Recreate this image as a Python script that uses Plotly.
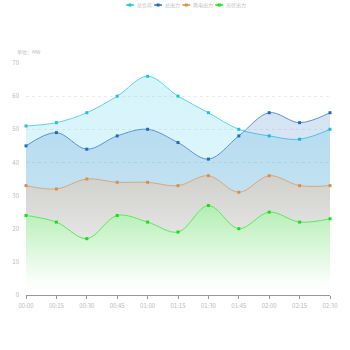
import plotly.graph_objects as go

times = ["00:00", "00:15", "00:30", "00:45", "01:00", "01:15",
         "01:30", "01:45", "02:00", "02:15", "02:30"]

names = ["总负荷", "总出力", "风电出力", "光伏出力"]
load_total = [51, 52, 55, 60, 66, 60, 55, 50, 48, 47, 50]
output_total = [45, 49, 44, 48, 50, 46, 41, 48, 55, 52, 55]
wind = [33, 32, 35, 34, 34, 33, 36, 31, 36, 33, 33]
solar = [24, 22, 17, 24, 22, 19, 27, 20, 25, 22, 23]

y_ticks = [0, 10, 20, 30, 40, 50, 60, 70]

series = [
    (names[0], load_total, "#5fd2ea", "#22bfe3",
     [[0, "rgba(46,199,230,0.12)"], [1, "rgba(46,199,230,0.20)"]]),
    (names[1], output_total, "#5a95d2", "#1a6cc4",
     [[0, "rgba(30,110,190,0.10)"], [1, "rgba(30,110,190,0.19)"]]),
    (names[2], wind, "#d9a878", "#e08e45",
     [[0, "rgb(248,248,248)"], [1, "rgb(208,208,205)"]]),
    (names[3], solar, "#5ee85e", "#18e018",
     [[0, "rgb(255,255,255)"], [0.15, "rgb(250,254,250)"], [1, "rgb(178,238,178)"]]),
]

# plot area in pixels (used to lay out the compact legend row)
W, H = 350, 350
ML, MR, MT, MB = 22, 15, 63, 55
PW, PH = W - ML - MR, H - MT - MB


def px_x(px):
    return (px - ML) / PW


def px_y(py):
    return (H - MB - py) / PH


fig = go.Figure()
for name, vals, line_c, mark_c, grad in series:
    fig.add_trace(go.Scatter(
        x=list(range(len(times))), y=vals, name=name,
        mode="lines+markers",
        line=dict(color=line_c, width=1, shape="spline", smoothing=1),
        marker=dict(color=mark_c, size=3, symbol="square"),
        fill="tozeroy",
        fillgradient=dict(type="vertical", colorscale=grad,
                          start=0, stop=max(vals)),
        cliponaxis=False, showlegend=False,
    ))

# compact legend row at the top: short line + marker + label per series
shapes = []
annotations = []
cursor = 125
legend_y = 5
for name, vals, line_c, mark_c, grad in series:
    shapes.append(dict(type="line", xref="paper", yref="paper",
                       x0=px_x(cursor), x1=px_x(cursor + 8),
                       y0=px_y(legend_y), y1=px_y(legend_y),
                       line=dict(color=mark_c, width=1.5)))
    shapes.append(dict(type="rect", xref="paper", yref="paper",
                       x0=px_x(cursor + 2.5), x1=px_x(cursor + 5.5),
                       y0=px_y(legend_y + 1.5), y1=px_y(legend_y - 1.5),
                       fillcolor=mark_c, line=dict(width=0)))
    annotations.append(dict(text=name, xref="paper", yref="paper",
                            x=px_x(cursor + 9), y=px_y(legend_y),
                            xanchor="left", yanchor="middle", showarrow=False,
                            font=dict(size=5, color="#c0c0c0")))
    cursor += 9 + 5 * len(name) + 5

annotations.append(dict(text="单位：MW", xref="paper", yref="paper",
                        x=px_x(11), y=px_y(52), xanchor="left", yanchor="middle",
                        showarrow=False, font=dict(size=5, color="#bbbbbb")))

fig.update_layout(
    width=W, height=H,
    margin=dict(l=ML, r=MR, t=MT, b=MB),
    paper_bgcolor="white", plot_bgcolor="white",
    font=dict(family="Noto Sans CJK SC, Noto Sans, sans-serif", size=6, color="#bbbbbb"),
    showlegend=False,
    xaxis=dict(
        tickmode="array", tickvals=list(range(len(times))), ticktext=times,
        range=[0, len(times) - 1], showgrid=False, zeroline=False,
        showline=True, linecolor="#999999", linewidth=1,
        ticks="outside", ticklen=3, tickcolor="#999999",
        tickfont=dict(size=6, color="#bbbbbb"), ticklabelstandoff=2,
    ),
    yaxis=dict(
        range=[0, 70], tickvals=y_ticks, showline=False, zeroline=False,
        showgrid=True, gridcolor="#ececec", griddash="dot", gridwidth=1,
        tickfont=dict(size=6, color="#bbbbbb"), ticks="", ticklabelstandoff=6,
    ),
    shapes=shapes,
    annotations=annotations,
)

fig.write_html("out.html")
